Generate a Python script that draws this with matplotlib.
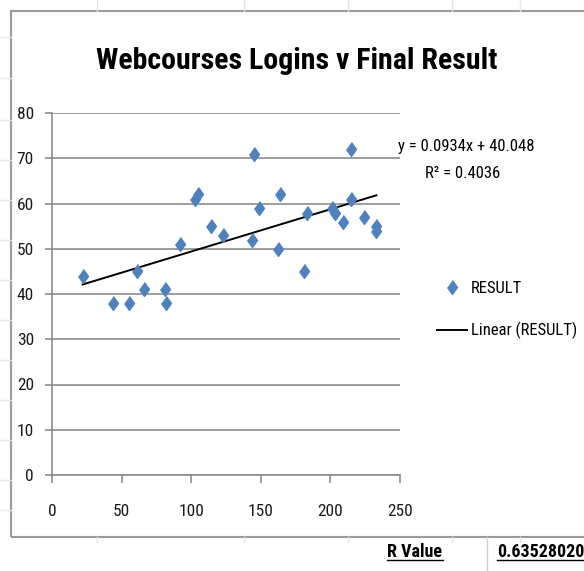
import matplotlib
matplotlib.use("Agg")
import matplotlib.pyplot as plt
from matplotlib.patches import Rectangle
from matplotlib.lines import Line2D
import numpy as np

# logins vs final result
logins = [22, 44, 55, 61, 66, 81, 82, 92, 103, 105, 114, 123, 145, 144,
          149, 162, 164, 181, 183, 201, 203, 209, 215, 215, 224, 233, 233]
result = [44, 38, 38, 45, 41, 41, 38, 51, 61, 62, 55, 53, 71, 52,
          59, 50, 62, 45, 58, 59, 58, 56, 72, 61, 57, 55, 54]
slope, intercept = 0.0934, 40.048
r_squared = 0.4036
r_value = "0.635280206"

xticks = [0, 50, 100, 150, 200, 250]
yticks = [0, 10, 20, 30, 40, 50, 60, 70, 80]

plt.rcParams['font.family'] = ['Roboto Condensed', 'Lato', 'DejaVu Sans']
grey = "#8c8c8c"
blue = "#4F81BD"

W, H = 584, 571
fig = plt.figure(figsize=(W/100, H/100), dpi=100)
ax = fig.add_axes([52/W, 1-475/H, (400-52)/W, (475-113)/H])

diamond = [(0, 1), (0.72, 0), (0, -1), (-0.72, 0)]
ax.plot(logins, result, linestyle="none", marker=diamond, markersize=10,
        color=blue, label="RESULT", zorder=3)
xl = np.array([min(logins), max(logins)])
ax.plot(xl, slope*xl + intercept, color="black", lw=1.4, label="Linear (RESULT)", zorder=2)

ax.set_xlim(0, 250)
ax.set_ylim(0, 80)
ax.set_xticks(xticks)
ax.set_yticks(yticks)
ax.yaxis.grid(True, color=grey, lw=1.2)
ax.set_axisbelow(True)
for s in ["top", "right"]:
    ax.spines[s].set_visible(False)
for s in ["left", "bottom"]:
    ax.spines[s].set_color(grey)
    ax.spines[s].set_linewidth(1.2)
ax.tick_params(axis="y", length=5, width=1.2, color=grey, pad=8, labelsize=12.5,
               labelcolor="#1a1a1a")
ax.tick_params(axis="x", length=6, width=1.2, color=grey, pad=15, labelsize=12.5,
               labelcolor="#1a1a1a")

fig.text(297/W, 1-61/H, "Webcourses Logins v Final Result", ha="center", va="center",
         fontsize=21.5, fontweight="bold")

fig.text(398/W, 1-146/H, "y = 0.0934x + 40.048", ha="left", va="center", fontsize=12)
fig.text(425/W, 1-173/H, "R² = %.4f" % r_squared, ha="left", va="center", fontsize=12)

h, l = ax.get_legend_handles_labels()
fig.legend(h, l, loc="center left", bbox_to_anchor=(422/W, 1-310/H), frameon=False,
           fontsize=12, handlelength=1.8, handletextpad=0.25, labelspacing=1.6)

# chart border and a bit of the sheet around it
fig.add_artist(Rectangle((11/W, 1-537/H), 1.2, (537-11)/H, transform=fig.transFigure,
                         fill=False, ec="#9a9a9a", lw=1.5))
for cx in [97, 244, 348, 452, 520]:
    fig.add_artist(Line2D([cx/W, cx/W], [1-11/H, 1], color="#e4e4e4", lw=1))
    fig.add_artist(Line2D([cx/W, cx/W], [1-537/H, 1-542/H], color="#e4e4e4", lw=1))
for cy in [37, 78, 120, 160, 200, 240, 280, 320, 360, 400, 440, 480, 510]:
    fig.add_artist(Line2D([0, 11/W], [1-cy/H, 1-cy/H], color="#e8e8e8", lw=1))
fig.add_artist(Line2D([487/W, 487/W], [0, 1-537/H], color="#d0d0d0", lw=1))

fig.text(387/W, 1-552/H, "R Value", ha="left", va="center", fontsize=13, fontweight="bold")
fig.text(497/W, 1-552/H, r_value, ha="left", va="center", fontsize=13, fontweight="bold")
fig.add_artist(Line2D([387/W, 443/W], [1-560/H, 1-560/H], color="black", lw=1))
fig.add_artist(Line2D([497/W, 1], [1-560/H, 1-560/H], color="black", lw=1))

fig.savefig("out.png", dpi=100)
